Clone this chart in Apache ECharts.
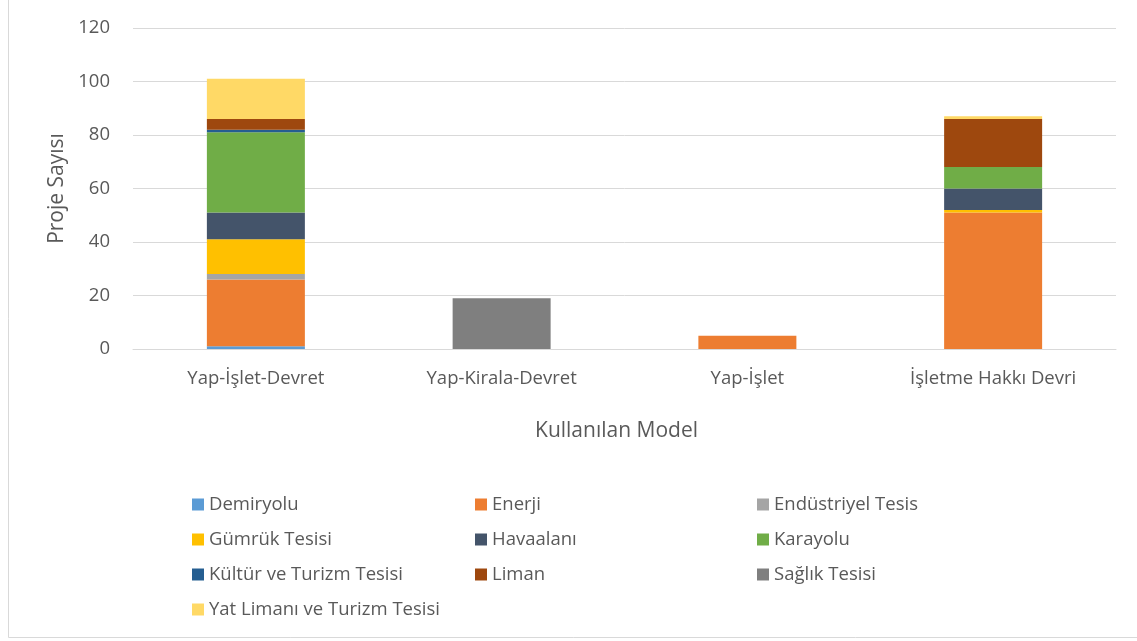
<!DOCTYPE html>
<html>
<head>
<meta charset="utf-8">
<script src="https://cdn.jsdelivr.net/npm/echarts@6/dist/echarts.min.js"></script>
<style>
html,body{margin:0;padding:0;background:#fff;}
#c{width:1137px;height:641px;}
</style>
</head>
<body>
<div id="c"></div>
<script>
var categories = ['Yap-İşlet-Devret', 'Yap-Kirala-Devret', 'Yap-İşlet', 'İşletme Hakkı Devri'];
var yTicks = [0, 20, 40, 60, 80, 100, 120];
var demiryolu   = [1, 0, 0, 0];
var enerji      = [25, 0, 5, 51];
var endustriyel = [2, 0, 0, 0];
var gumruk      = [13, 0, 0, 1];
var havaalani   = [10, 0, 0, 8];
var karayolu    = [30, 0, 0, 8];
var kultur      = [1, 0, 0, 0];
var liman       = [4, 0, 0, 18];
var saglik      = [0, 19, 0, 0];
var yat         = [15, 0, 0, 1];

var seriesDefs = [
  ['Demiryolu', demiryolu, '#5B9BD5'],
  ['Enerji', enerji, '#ED7D31'],
  ['Endüstriyel Tesis', endustriyel, '#A5A5A5'],
  ['Gümrük Tesisi', gumruk, '#FFC000'],
  ['Havaalanı', havaalani, '#44546A'],
  ['Karayolu', karayolu, '#70AD47'],
  ['Kültür ve Turizm Tesisi', kultur, '#255E91'],
  ['Liman', liman, '#9E480E'],
  ['Sağlık Tesisi', saglik, '#7F7F7F'],
  ['Yat Limanı ve Turizm Tesisi', yat, '#FFD966']
];

var FONT = 'Open Sans';
var TXT = '#595959';

var legendCommon = {
  orient: 'vertical',
  top: 490,
  itemWidth: 12,
  itemHeight: 12,
  itemGap: 16,
  icon: 'rect',
  textStyle: { color: TXT, fontSize: 18.5, fontFamily: FONT, lineHeight: 19 },
  selectedMode: false
};

var chart = echarts.init(document.getElementById('c'), null, { renderer: 'canvas' });
chart.setOption({
  animation: false,
  backgroundColor: '#fff',
  textStyle: { fontFamily: FONT },
  graphic: [{
    type: 'rect',
    shape: { x: 8.5, y: -5, width: 1140, height: 642.5 },
    style: { fill: 'none', stroke: '#d9d9d9', lineWidth: 1 }
  }],
  grid: { left: 133, right: 21, top: 28, height: 321 },
  legend: [
    Object.assign({}, legendCommon, { left: 187, data: ['Demiryolu', 'Gümrük Tesisi', 'Kültür ve Turizm Tesisi', 'Yat Limanı ve Turizm Tesisi'] }),
    Object.assign({}, legendCommon, { left: 470, data: ['Enerji', 'Havaalanı', 'Liman'] }),
    Object.assign({}, legendCommon, { left: 752, data: ['Endüstriyel Tesis', 'Karayolu', 'Sağlık Tesisi'] })
  ],
  xAxis: {
    type: 'category',
    data: categories,
    name: 'Kullanılan Model',
    nameLocation: 'middle',
    nameGap: 72,
    nameTextStyle: { color: TXT, fontSize: 21, fontFamily: FONT, padding: [0, 16, 0, 0] },
    axisLine: { show: true, lineStyle: { color: '#d9d9d9' } },
    axisTick: { show: false },
    axisLabel: { color: TXT, fontSize: 18.5, fontFamily: FONT, margin: 20 }
  },
  yAxis: {
    type: 'value',
    min: yTicks[0],
    max: yTicks[yTicks.length - 1],
    interval: 20,
    name: 'Proje Sayısı',
    nameLocation: 'middle',
    nameGap: 64,
    nameRotate: 90,
    nameTextStyle: { color: TXT, fontSize: 21, fontFamily: FONT },
    axisLine: { show: false },
    axisTick: { show: false },
    splitLine: { lineStyle: { color: '#d9d9d9', width: 1 } },
    axisLabel: { color: TXT, fontSize: 18.5, fontFamily: FONT, margin: 23 }
  },
  series: seriesDefs.map(function (d) {
    return {
      name: d[0],
      type: 'bar',
      stack: 'total',
      data: d[1],
      barWidth: 98,
      itemStyle: { color: d[2] }
    };
  })
});
</script>
</body>
</html>
